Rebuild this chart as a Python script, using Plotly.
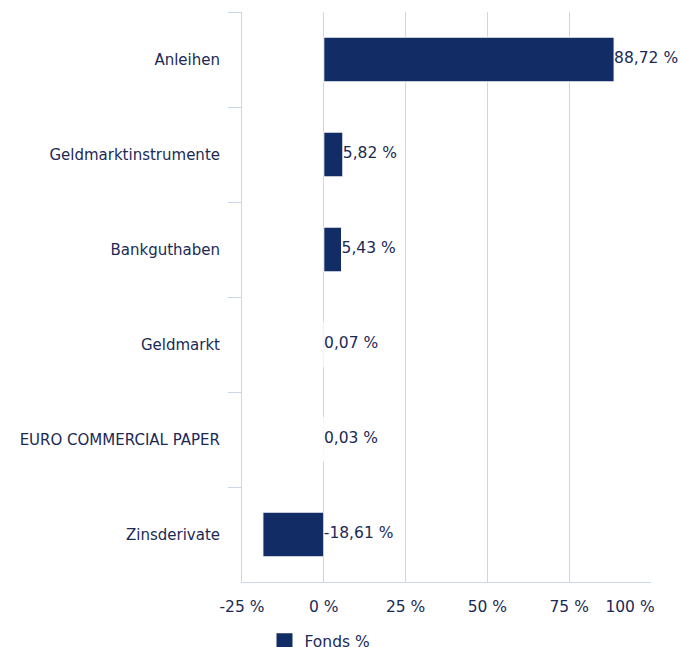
import plotly.graph_objects as go

categories = ["Anleihen", "Geldmarktinstrumente", "Bankguthaben", "Geldmarkt",
              "EURO COMMERCIAL PAPER", "Zinsderivate"]
values = [88.72, 5.82, 5.43, 0.07, 0.03, -18.61]
series_name = "Fonds %"
tick_vals = [-25, 0, 25, 50, 75, 100]
tick_text = ["-25 %", "0 %", "25 %", "50 %", "75 %", "100 %"]

BAR = "#122d66"
TXT = "#1b2a55"
GRID = "#ccd6eb"
FONT = "DejaVu Sans, Verdana, sans-serif"

X_MIN, X_MAX = -25, 100
L, R, T, B, W, H = 242, 29, 12, 65, 680, 647
# the last tick label is pulled inside the chart (justified), like the original
last_label_shift_px = 21
last_label_pos = tick_vals[-1] - last_label_shift_px * (X_MAX - X_MIN) / (W - L - R)

labels = [f"{v:.2f}".replace(".", ",") + " %" for v in values]
label_x = [max(v, 0) for v in values]

fig = go.Figure()
fig.add_trace(go.Bar(
    y=categories, x=values, orientation="h", name=series_name,
    marker=dict(color=BAR, line=dict(color="white", width=1)),
    width=0.47, showlegend=False, hoverinfo="skip",
))
fig.add_trace(go.Scatter(
    y=categories, x=label_x, mode="text", text=labels,
    textposition="middle right", textfont=dict(color=TXT, size=15.5, family=FONT),
    showlegend=False, hoverinfo="skip", cliponaxis=False,
))
# legend entry for the series
fig.add_trace(go.Scatter(
    x=[None], y=[None], mode="markers", name=series_name, xaxis="x2",
    marker=dict(symbol="square", size=16, color=BAR), showlegend=True,
))

fig.update_layout(
    width=W, height=H,
    margin=dict(l=L, r=R, t=T, b=B, autoexpand=False),
    plot_bgcolor="white", paper_bgcolor="white",
    font=dict(family=FONT, size=15, color=TXT),
    showlegend=True,
    legend=dict(orientation="h", x=0.055, y=-0.075, xanchor="left", yanchor="top",
                font=dict(size=15.5, color=TXT, family=FONT)),
    xaxis2=dict(
        overlaying="x", side="bottom", range=[X_MIN, X_MAX],
        tickvals=[last_label_pos], ticktext=[tick_text[-1]],
        showgrid=False, zeroline=False, showline=True, linecolor=GRID, linewidth=1,
        ticks="", tickfont=dict(size=15.5, color=TXT, family=FONT), ticklabelstandoff=10,
        ticklabeloverflow="allow", automargin=False,
    ),
)
fig.layout.xaxis.update(
    range=[X_MIN, X_MAX], tickvals=tick_vals, ticktext=tick_text[:-1] + [""],
    showgrid=True, gridcolor=GRID, gridwidth=1, zeroline=False,
    showline=True, linecolor=GRID, linewidth=1, ticks="",
    tickfont=dict(size=15.5, color=TXT, family=FONT), ticklabelstandoff=10,
    ticklabeloverflow="allow", automargin=False,
)
fig.update_yaxes(
    categoryorder="array", categoryarray=categories,
    range=[5.5, -0.5], tickson="boundaries", ticks="outside", ticklen=13,
    tickcolor=GRID, tickwidth=1, showgrid=False, zeroline=False,
    showline=True, linecolor=GRID, linewidth=1,
    tickfont=dict(size=15, color=TXT, family=FONT), ticklabelstandoff=18,
    automargin=False,
)

fig.write_html("out.html", config={"displayModeBar": False},
               post_script="document.body.style.margin='0px';")
